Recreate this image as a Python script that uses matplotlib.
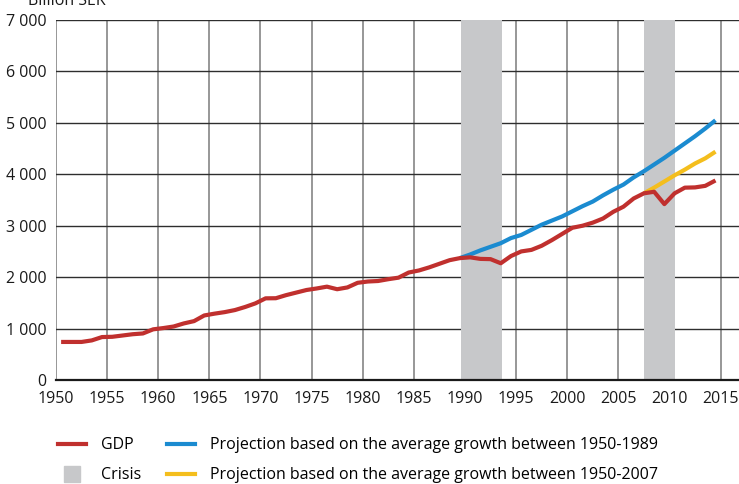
"""
Swedish GDP 1950-2014 against two trend projections, with crisis periods shaded.
"""

import numpy as np
import matplotlib
matplotlib.use("Agg")
import matplotlib.pyplot as plt
from matplotlib.lines import Line2D

plt.rcParams["font.family"] = ["Open Sans", "DejaVu Sans"]

# --- data (billion SEK) ---------------------------------------------------
gdp_years = np.arange(1950, 2015)
gdp = [740, 740, 740, 770, 835, 840, 865, 890, 905, 985,
       1010, 1040, 1100, 1145, 1255, 1290, 1320, 1360, 1420, 1490,
       1588, 1590, 1650, 1700, 1750, 1780, 1815, 1765, 1800, 1890,
       1915, 1925, 1960, 1990, 2090, 2130, 2190, 2260, 2330, 2370,
       2385, 2355, 2350, 2270, 2410, 2500, 2530, 2610, 2720, 2840,
       2960, 3000, 3060, 3140, 3270, 3370, 3530, 3630, 3660, 3420,
       3630, 3740, 3745, 3775, 3880]

proj_1989_years = np.arange(1989, 2015)
proj_1989 = [2370, 2440, 2520, 2590, 2660, 2760, 2820, 2920, 3020, 3100,
             3180, 3280, 3380, 3470, 3590, 3700, 3800, 3940, 4060, 4190,
             4320, 4460, 4600, 4740, 4890, 5050]

proj_2007_years = np.arange(2007, 2015)
proj_2007 = [3630, 3740, 3860, 3980, 4090, 4210, 4310, 4440]

crisis_periods = [(1989.6, 1993.6), (2007.5, 2010.5)]

x_ticks = np.arange(1950, 2016, 5)
y_ticks = np.arange(0, 7001, 1000)
y_tick_labels = ["0"] + [f"{v // 1000} 000" for v in y_ticks[1:]]

# --- style -----------------------------------------------------------------
RED = "#c0302e"
BLUE = "#1b8bd0"
YELLOW = "#f4be1d"
GREY = "#c7c8ca"
FS = 11.5

fig = plt.figure(figsize=(7.39, 4.84), dpi=100)
ax = fig.add_axes([56 / 739, 104 / 484, 1 - 56 / 739, 360 / 484])

for start, end in crisis_periods:
    ax.axvspan(start, end, color=GREY, lw=0, zorder=1)

# annual values are plotted at mid-year
ax.plot(proj_1989_years + 0.5, proj_1989, color=BLUE, lw=3, zorder=3,
        solid_capstyle="butt")
ax.plot(proj_2007_years + 0.5, proj_2007, color=YELLOW, lw=3, zorder=3,
        solid_capstyle="butt")
ax.plot(gdp_years + 0.5, gdp, color=RED, lw=3, zorder=4,
        solid_capstyle="butt")

ax.set_xlim(1950, 2016.8)
ax.set_ylim(0, 7000)
ax.set_xticks(x_ticks)
ax.set_yticks(y_ticks, y_tick_labels)
ax.tick_params(length=0, labelsize=FS, colors="#1a1a1a")
ax.tick_params(axis="x", pad=8)
ax.tick_params(axis="y", pad=7)

ax.set_axisbelow(True)
ax.grid(axis="x", color="#7a7a7a", lw=1.1)
ax.grid(axis="y", color="#2e2e2e", lw=1.0)
for side in ["top", "right", "left"]:
    ax.spines[side].set_visible(False)
ax.spines["bottom"].set_color("#1a1a1a")
ax.spines["bottom"].set_linewidth(1.6)

fig.text(28 / 739, 1 - 5 / 484, "Billion SEK", fontsize=FS,
         color="#1a1a1a", va="baseline", ha="left")

handles = [
    Line2D([], [], color=RED, lw=3),
    Line2D([], [], marker="s", color=GREY, markersize=11, ls="none"),
    Line2D([], [], color=BLUE, lw=3),
    Line2D([], [], color=YELLOW, lw=3),
]
labels = ["GDP", "Crisis",
          "Projection based on the average growth between 1950-1989",
          "Projection based on the average growth between 1950-2007"]
fig.legend(handles, labels, ncol=2, loc="upper left",
           bbox_to_anchor=(52 / 739, 1 - 431 / 484), frameon=False,
           fontsize=FS, handlelength=1.75, handletextpad=0.9,
           columnspacing=1.65, labelspacing=0.88, borderaxespad=0)

fig.savefig("out.png", dpi=100)
